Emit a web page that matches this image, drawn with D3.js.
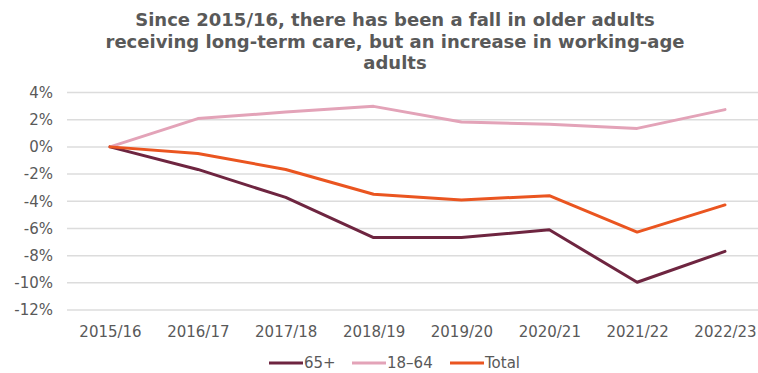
<!DOCTYPE html>
<html>
<head>
<meta charset="utf-8">
<script src="https://cdn.jsdelivr.net/npm/d3@7"></script>
<style>
  html, body { margin: 0; padding: 0; background: #fff; }
  svg { display: block; }
  text { font-family: "DejaVu Sans", Verdana, sans-serif; fill: #595959; }
</style>
</head>
<body>
<svg id="chart" width="758" height="373"></svg>
<script>
// Change in people receiving long-term care since 2015/16, by age group
const years = ["2015/16", "2016/17", "2017/18", "2018/19", "2019/20", "2020/21", "2021/22", "2022/23"];
const olderAdults = [0, -1.66, -3.72, -6.67, -6.67, -6.1, -9.96, -7.69];   // 65+
const workingAge  = [0, 2.08, 2.56, 2.98, 1.83, 1.66, 1.36, 2.74];         // 18–64
const total       = [0, -0.49, -1.66, -3.49, -3.9, -3.59, -6.27, -4.27];   // Total
const yTicks = [4, 2, 0, -2, -4, -6, -8, -10, -12];
const titleLines = [
  "Since 2015/16, there has been a fall in older adults",
  "receiving long-term care, but an increase in working-age",
  "adults"
];

const series = [
  { name: "65+",   values: olderAdults, color: "#6e2540" },
  { name: "18\u201364", values: workingAge, color: "#e3a3b8" },
  { name: "Total", values: total,       color: "#ea5520" }
];

const svg = d3.select("#chart");

const x = d3.scalePoint().domain(years).range([110, 725]);
const y = d3.scaleLinear().domain([-12, 4]).range([310, 92.5]);

// Title
const title = svg.append("text")
  .attr("text-anchor", "middle")
  .style("font-weight", "bold")
  .style("font-size", "18px");
title.selectAll("tspan")
  .data(titleLines)
  .join("tspan")
  .attr("x", 395)
  .attr("y", (d, i) => 26 + i * 21.5)
  .text(d => d);

// Horizontal gridlines
svg.append("g")
  .selectAll("line")
  .data(yTicks)
  .join("line")
  .attr("x1", 67).attr("x2", 758)
  .attr("y1", d => y(d)).attr("y2", d => y(d))
  .attr("stroke", "#dcdcdc")
  .attr("stroke-width", 1.5);

// Y axis labels
const yAxis = svg.append("g")
  .attr("transform", "translate(60,0)")
  .call(d3.axisLeft(y).tickValues(yTicks).tickSize(0).tickPadding(7).tickFormat(d => d + "%"));
yAxis.select(".domain").remove();
yAxis.selectAll("text").style("font-size", "15px").attr("fill", "#595959");

// X axis labels
const xAxis = svg.append("g")
  .attr("transform", "translate(0,321)")
  .call(d3.axisBottom(x).tickSize(0).tickPadding(5));
xAxis.select(".domain").remove();
xAxis.selectAll("text").style("font-size", "15px").attr("fill", "#595959");

// Series lines
const line = d3.line()
  .x((d, i) => x(years[i]))
  .y(d => y(d));

svg.append("g")
  .selectAll("path")
  .data(series)
  .join("path")
  .attr("d", d => line(d.values))
  .attr("fill", "none")
  .attr("stroke", d => d.color)
  .attr("stroke-width", 3)
  .attr("stroke-linejoin", "round")
  .attr("stroke-linecap", "round");

// Legend
const legendX = [269, 352, 450];
const legend = svg.append("g")
  .selectAll("g")
  .data(series)
  .join("g")
  .attr("transform", (d, i) => `translate(${legendX[i]},363)`);
legend.append("line")
  .attr("x1", 0).attr("x2", 34)
  .attr("stroke", d => d.color)
  .attr("stroke-width", 3);
legend.append("text")
  .attr("x", 35)
  .attr("dy", "0.35em")
  .style("font-size", "15px")
  .text(d => d.name);
</script>
</body>
</html>
